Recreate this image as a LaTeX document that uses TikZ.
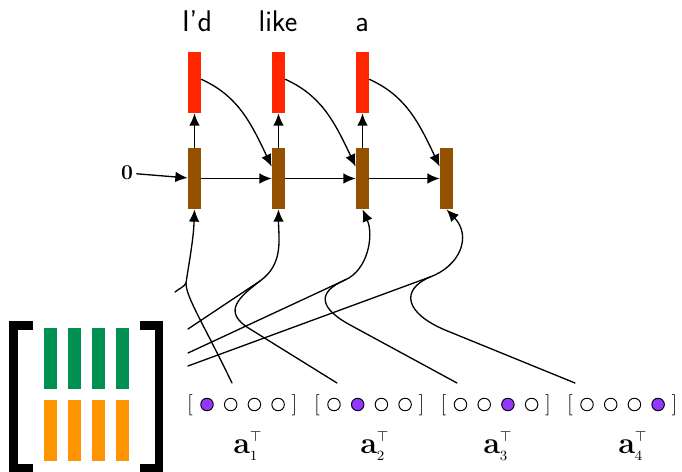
\documentclass[tikz,border=0pt]{standalone}
\usetikzlibrary{arrows.meta}
\begin{document}
\begin{tikzpicture}[x=0.02cm, y=-0.02cm, line cap=round, line join=round,
    >={Latex[length=7pt,width=6pt]}]

    \definecolor{maraschino}{HTML}{FF2600}
    \definecolor{mocha}{HTML}{945200}
    \definecolor{moss}{HTML}{009051}
    \definecolor{tangerine}{HTML}{FF9300}
    \definecolor{grape}{HTML}{9437FF}

    \useasboundingbox (0,0) rectangle (682,472);

    \tikzset{
      bar/.style={inner sep=0pt, minimum width=0.26cm, minimum height=1.22cm},
      outbox/.style={bar, fill=maraschino},
      hidbox/.style={bar, fill=mocha},
      word/.style={font=\fontsize{17}{20}\selectfont\sffamily, inner sep=0pt},
      dot/.style={circle, draw=black, line width=0.55pt, minimum size=0.25cm, inner sep=0pt},
      brack/.style={font=\fontsize{12}{14}\selectfont, inner sep=0pt},
      alabel/.style={font=\fontsize{16}{19}\selectfont, inner sep=0pt, anchor=base west},
      wire/.style={black, line width=0.75pt},
      mat/.style={line width=5pt, line cap=butt, line join=miter}
    }

    % decoder
    \node[word, anchor=base] (w1) at (197,32) {I’d};
    \node[word, anchor=base] (w2) at (278,32) {like};
    \node[word, anchor=base] (w3) at (362,32) {a};

    \node[outbox] (r1) at (194.5,82.5) {};
    \node[outbox] (r2) at (278.5,82.5) {};
    \node[outbox] (r3) at (362.5,82.5) {};

    \node[hidbox] (h1) at (194.5,178.5) {};
    \node[hidbox] (h2) at (278.5,178.5) {};
    \node[hidbox] (h3) at (362.5,178.5) {};
    \node[hidbox] (h4) at (446.5,178.5) {};

    \node[font=\fontsize{12}{14}\selectfont, inner sep=2pt] (z) at (127,173) {$\mathbf{0}$};

    \draw[wire, ->] (z) -- (h1);
    \draw[wire, ->] (h1) -- (h2);
    \draw[wire, ->] (h2) -- (h3);
    \draw[wire, ->] (h3) -- (h4);

    \draw[wire, ->] (h1) -- (r1);
    \draw[wire, ->] (h2) -- (r2);
    \draw[wire, ->] (h3) -- (r3);

    \draw[wire, ->] (r1.25) .. controls +(35,16) and +(-22,-47) .. (h2.120);
    \draw[wire, ->] (r2.25) .. controls +(35,16) and +(-22,-47) .. (h3.120);
    \draw[wire, ->] (r3.25) .. controls +(35,16) and +(-22,-47) .. (h4.120);

    % embedding matrix
    \draw[mat] (33,325.5) -- (13.5,325.5) -- (13.5,468) -- (33,468);
    \draw[mat] (140,325.5) -- (159,325.5) -- (159,468) -- (140,468);
    \foreach \x [count=\i] in {50.5,74.5,98.5,122.5} {
      \node[bar, fill=moss] (g\i) at (\x,358.5) {};
      \node[bar, fill=tangerine] (o\i) at (\x,430.5) {};
    }

    % one-hot vectors
    \foreach \xo [count=\g] in {190,317,443.5,570} {
      \node[brack] (lb\g) at (\xo,405.5) {[};
      \node[brack] (rb\g) at ({\xo+104.5},405.5) {]};
      \foreach \k in {1,...,4} {
        \ifnum\k=\g \def\dotfill{grape}\else \def\dotfill{white}\fi
        \node[dot, fill=\dotfill] (d\g\k) at ({\xo+17+23.7*(\k-1)},404.5) {};
      }
    }

    \node[alabel] (a1) at (233,453) {$\mathbf{a}_{\scriptscriptstyle 1}^{\scriptscriptstyle\top}$};
    \node[alabel] (a2) at (360,453) {$\mathbf{a}_{\scriptscriptstyle 2}^{\scriptscriptstyle\top}$};
    \node[alabel] (a3) at (483,453) {$\mathbf{a}_{\scriptscriptstyle 3}^{\scriptscriptstyle\top}$};
    \node[alabel] (a4) at (618,453) {$\mathbf{a}_{\scriptscriptstyle 4}^{\scriptscriptstyle\top}$};

    % inputs
    \coordinate (m1) at (175,292);
    \coordinate (m2) at (188,329);
    \coordinate (m3) at (188,353);
    \coordinate (m4) at (188,366);

    \coordinate (oh1) at (232,383);
    \coordinate (oh2) at (337,383);
    \coordinate (oh3) at (457,383);
    \coordinate (oh4) at (575,383);

    \coordinate (j1) at (186,283);
    \coordinate (j2) at (260,281);
    \coordinate (j3) at (345,280);
    \coordinate (j4) at (430,277);

    \draw[wire] (m1) .. controls +(5,-4) and +(-2,4) .. (j1);
    \draw[wire] (oh1) .. controls +(-30,-62) and +(0,14) .. (j1);
    \draw[wire, ->] (j1) .. controls +(3,-20) and +(-1,30) .. (h1.south);

    \draw[wire] (m2) -- (j2);
    \draw[wire] (oh2) -- ++(-87,-54) .. controls +(-28,-17) and +(-22,17) .. (j2);
    \draw[wire, ->] (j2) .. controls +(24,-17) and +(0,29) .. (h2.south);

    \draw[wire] (m3) -- (j3);
    \draw[wire] (oh3) -- ++(-105,-57) .. controls +(-34,-18) and +(-28,12) .. (j3);
    \draw[wire, ->] (j3) .. controls +(23,-10) and +(11.5,26) .. (h3.south);

    \draw[wire] (m4) -- (j4);
    \draw[wire] (oh4) -- ++(-130,-53) .. controls +(-40,-17) and +(-30,13) .. (j4);
    \draw[wire, ->] (j4) .. controls +(30,-11) and +(25.5,27) .. (h4.south);

  \end{tikzpicture}
\end{document}
